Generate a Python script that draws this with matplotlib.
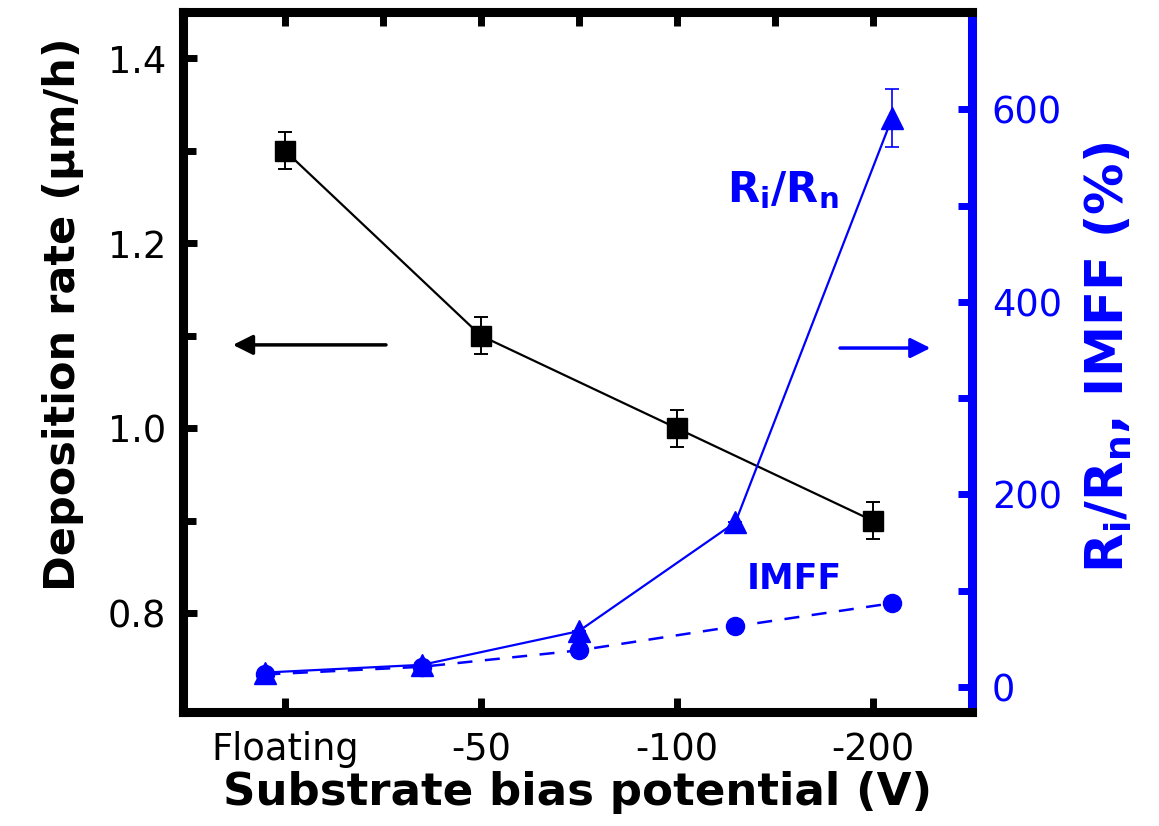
import numpy as np
import matplotlib.pyplot as plt

plt.rcParams['font.family'] = ['DejaVu Sans']
plt.rcParams['mathtext.fontset'] = 'dejavusans'

# deposition rate (left axis)
bias_labels = ['Floating', '-50', '-100', '-200']
dep_x = [0, 1, 2, 3]
dep_rate = [1.30, 1.10, 1.00, 0.90]
dep_err = [0.02, 0.02, 0.02, 0.02]

# Ri/Rn and IMFF (right axis)
blue_x = [-0.1, 0.7, 1.5, 2.3, 3.1]
ri_rn = [15, 23, 58, 171, 591]
ri_rn_err = [0, 0, 0, 0, 30]
imff = [13, 21, 38, 63, 87]

blue = '#0000ff'

fig = plt.figure(figsize=(11.59, 8.26), dpi=100)
ax = fig.add_axes([0.158, 0.138, 0.681, 0.8475])
ax2 = ax.twinx()

ax.errorbar(dep_x, dep_rate, yerr=dep_err, color='black', lw=1.6, marker='s',
            ms=14, capsize=5, elinewidth=1.4, capthick=1.4, zorder=3)

ax2.errorbar(blue_x, ri_rn, yerr=ri_rn_err, color=blue, lw=1.6, marker='^',
             ms=16, capsize=5, elinewidth=1.2, capthick=1.2, zorder=3)
ax2.plot(blue_x, imff, color=blue, lw=1.8, ls=(0, (6, 5)), marker='o', ms=13, zorder=2)

ax.set_xlim(-0.52, 3.51)
ax.set_ylim(0.693, 1.45)
ax2.set_ylim(-26, 701)

ax.set_xticks(dep_x)
ax.set_xticklabels(bias_labels)
ax.set_yticks([0.8, 1.0, 1.2, 1.4])
ax.set_yticks([0.9, 1.1, 1.3], minor=True)
ax2.set_yticks([0, 200, 400, 600])
ax2.set_yticks([100, 300, 500], minor=True)

ax.tick_params(axis='x', which='major', direction='in', length=10, width=5,
               labelsize=26.5, pad=14, top=False, colors='black')
ax.tick_params(axis='y', which='both', direction='in', length=10, width=5,
               labelsize=26.5, pad=12, right=False)
ax.tick_params(axis='y', which='minor', length=9)
ax2.tick_params(axis='y', which='both', direction='in', length=10, width=5,
                labelsize=26.5, pad=14, colors=blue)

# top ticks (no labels)
sec = ax.secondary_xaxis('top')
sec.set_xticks(np.arange(0, 3.01, 0.5))
sec.tick_params(direction='in', length=10, width=5, labeltop=False)
sec.spines['top'].set_visible(False)

for sp in ['left', 'bottom', 'top']:
    ax.spines[sp].set_linewidth(6.5)
    ax2.spines[sp].set_linewidth(6.5)
ax2.spines['right'].set_linewidth(6.5)
ax2.spines['right'].set_color(blue)
ax.spines['right'].set_visible(False)

ax.set_xlabel('Substrate bias potential (V)', fontsize=32.5, fontweight='bold', labelpad=2)
ax.set_ylabel('Deposition rate (\u03bcm/h)', fontsize=31, fontweight='bold')
ax.yaxis.set_label_coords(-0.125, 0.569)
ax2.set_ylabel(r'$\mathbf{R_i/R_n}$, IMFF (%)', fontsize=37, fontweight='bold',
               color=blue)
ax2.yaxis.set_label_coords(1.14, 0.506)

ax2.text(2.54, 516, r'$\mathbf{R_i/R_n}$', color=blue, fontsize=30,
         ha='center', va='center')
ax2.text(2.6, 112, 'IMFF', color=blue, fontsize=25, fontweight='bold',
         ha='center', va='center')

ax.annotate('', xy=(-0.28, 1.09), xytext=(0.53, 1.09),
            arrowprops=dict(arrowstyle='-|>', color='black', lw=2.5,
                            mutation_scale=30))
ax2.annotate('', xy=(3.31, 352), xytext=(2.82, 352),
             arrowprops=dict(arrowstyle='-|>', color=blue, lw=2.5,
                             mutation_scale=30))

fig.savefig('out.png', dpi=100)
